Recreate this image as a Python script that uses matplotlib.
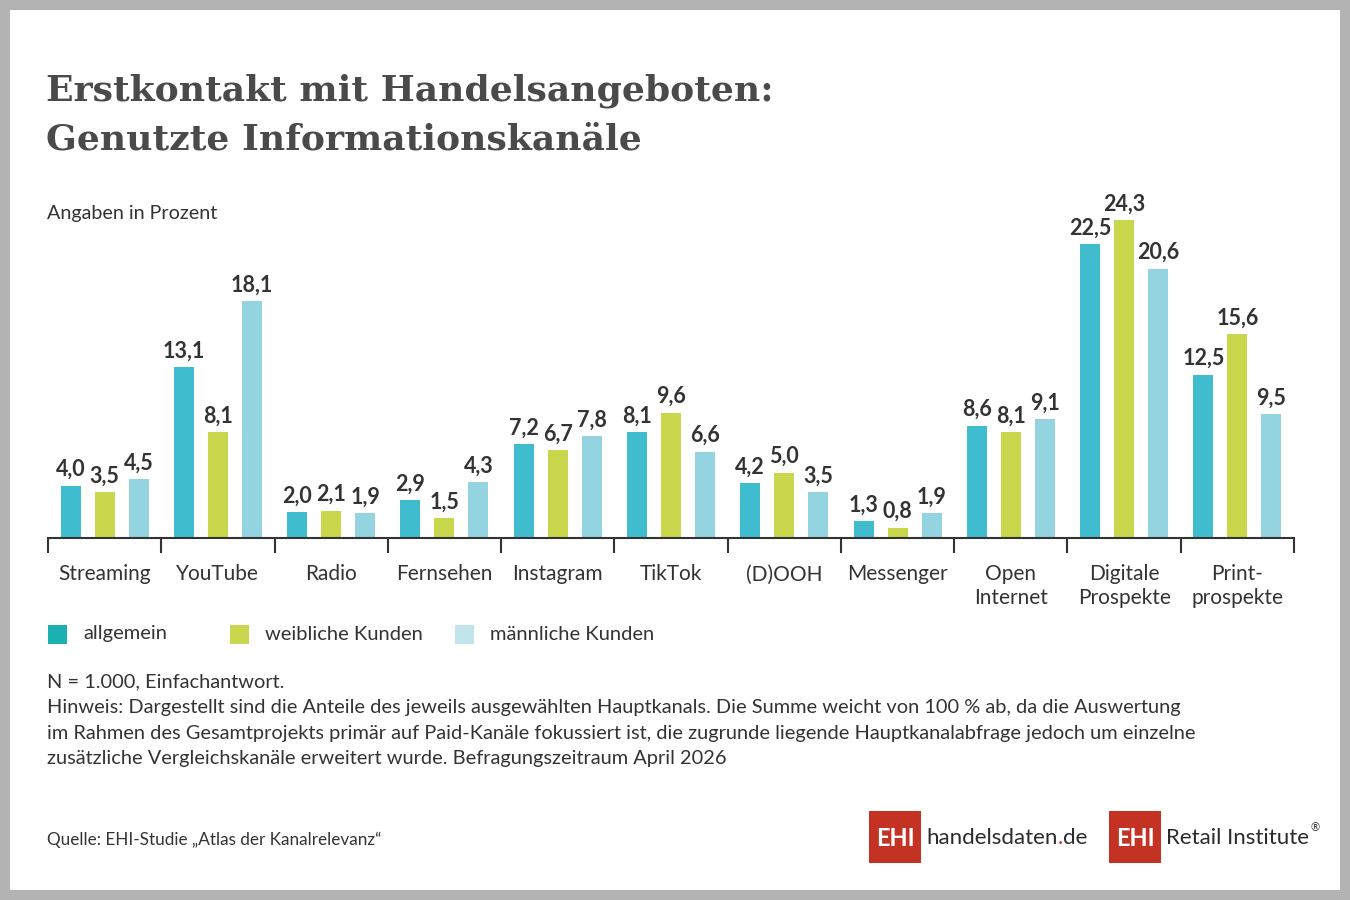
import numpy as np
import matplotlib.pyplot as plt
from matplotlib.patches import Rectangle

kanaele = ["Streaming", "YouTube", "Radio", "Fernsehen", "Instagram", "TikTok",
           "(D)OOH", "Messenger", "Open\nInternet", "Digitale\nProspekte", "Print-\nprospekte"]
allgemein = [4.0, 13.1, 2.0, 2.9, 7.2, 8.1, 4.2, 1.3, 8.6, 22.5, 12.5]
weiblich = [3.5, 8.1, 2.1, 1.5, 6.7, 9.6, 5.0, 0.8, 8.1, 24.3, 15.6]
maennlich = [4.5, 18.1, 1.9, 4.3, 7.8, 6.6, 3.5, 1.9, 9.1, 20.6, 9.5]
serien = ["allgemein", "weibliche Kunden", "männliche Kunden"]

farben = ["#40bccf", "#c8d74b", "#94d3e0"]
legfarben = ["#1bb0b2", "#c8d74b", "#c1e5ea"]
txt = "#333333"
font = "Lato"

W, H = 1350, 900
fig = plt.figure(figsize=(13.5, 9), dpi=100)
fig.patch.set_facecolor("#b3b3b3")
# white inner panel
fig.add_artist(Rectangle((10 / W, 10 / H), 1330 / W, 880 / H, transform=fig.transFigure,
                         facecolor="white", edgecolor="none", zorder=0))

def fx(px):
    return px / W

def fy(py):
    return 1 - py / H

# title
fig.text(fx(46), fy(100), "Erstkontakt mit Handelsangeboten:", family="DejaVu Serif",
         weight="bold", fontsize=26, color="#4a4a4a", va="baseline")
fig.text(fx(46), fy(150), "Genutzte Informationskanäle", family="DejaVu Serif",
         weight="bold", fontsize=26, color="#4a4a4a", va="baseline")
fig.text(fx(47), fy(213), "Angaben in Prozent", family=font, fontsize=14.2, color=txt, va="center")

# axes: baseline at y=538px, x 48..1294, 13.07 px per unit
ymax = 25
top_px = 538 - ymax * 13.07
ax = fig.add_axes([fx(48), fy(538), fx(1294 - 48), (538 - top_px) / H])
ax.set_xlim(0, len(kanaele))
ax.set_ylim(0, ymax)
ax.patch.set_alpha(0)

x = np.arange(len(kanaele)) + 0.5
off = 0.30
bw = 0.177
for k, (vals, c) in enumerate(zip([allgemein, weiblich, maennlich], farben)):
    xs = x + (k - 1) * off
    ax.bar(xs, vals, width=bw, color=c, zorder=2)
    for xi, v in zip(xs, vals):
        ax.annotate(f"{v:.1f}".replace(".", ","), (xi, v), xytext=(0, 4),
                    textcoords="offset points", ha="center", va="bottom",
                    family=font, weight="bold", fontsize=15.5, color=txt)

for s in ["top", "right", "left"]:
    ax.spines[s].set_visible(False)
ax.spines["bottom"].set_color("#333333")
ax.spines["bottom"].set_linewidth(1.5)
ax.set_yticks([])
ax.set_xticks(np.arange(len(kanaele) + 1))
ax.set_xticklabels([])
ax.tick_params(axis="x", which="major", direction="out", length=11, width=1.5, color="#333333")
ax.set_xticks(x, minor=True)
ax.set_xticklabels(kanaele, minor=True, family=font, fontsize=15, color=txt, linespacing=1.2)
ax.tick_params(axis="x", which="minor", length=0, pad=19)

# legend
leg_sq = [48, 230, 455]
leg_tx = [83, 265, 490]
for name, c, sx, tx in zip(serien, legfarben, leg_sq, leg_tx):
    fig.add_artist(Rectangle((fx(sx), fy(644)), 19 / W, 19 / H, transform=fig.transFigure,
                             facecolor=c, edgecolor="none"))
    fig.text(fx(tx), fy(634), name, family=font, fontsize=14.5, color=txt, va="center")

# footnote
fuss = ["N = 1.000, Einfachantwort.",
        "Hinweis: Dargestellt sind die Anteile des jeweils ausgewählten Hauptkanals. Die Summe weicht von 100 % ab, da die Auswertung",
        "im Rahmen des Gesamtprojekts primär auf Paid-Kanäle fokussiert ist, die zugrunde liegende Hauptkanalabfrage jedoch um einzelne",
        "zusätzliche Vergleichskanäle erweitert wurde. Befragungszeitraum April 2026"]
for i, line in enumerate(fuss):
    fig.text(fx(47), fy(682 + i * 25.5), line, family=font, fontsize=14.4, color=txt, va="center")

fig.text(fx(47), fy(840), "Quelle: EHI-Studie „Atlas der Kanalrelevanz“", family=font,
         fontsize=12.3, color=txt, va="center")

# logos
rot = "#c33222"
for bx in [869, 1109]:
    fig.add_artist(Rectangle((fx(bx), fy(863)), 52 / W, 52 / H, transform=fig.transFigure,
                             facecolor=rot, edgecolor="none"))
    fig.text(fx(bx + 26), fy(838), "EHI", family=font, weight="bold", fontsize=17,
             color="white", ha="center", va="center")
t1 = fig.text(fx(926), fy(838), "handelsdaten", family=font, fontsize=16, color="#2b2b2b", va="center")
fig.canvas.draw()
bb = t1.get_window_extent()
t2 = fig.text(bb.x1 / W, fy(838), ".", family=font, fontsize=16, color=rot, va="center")
bb2 = t2.get_window_extent()
fig.text(bb2.x1 / W, fy(838), "de", family=font, fontsize=16, color="#2b2b2b", va="center")
t3 = fig.text(fx(1166), fy(838), "Retail Institute", family=font, fontsize=16, color="#2b2b2b", va="center")
bb3 = t3.get_window_extent()
fig.text(bb3.x1 / W + 0.001, fy(828), "®", family=font, fontsize=8, color="#2b2b2b", va="center")

fig.savefig("out.png", dpi=100, facecolor=fig.get_facecolor())
